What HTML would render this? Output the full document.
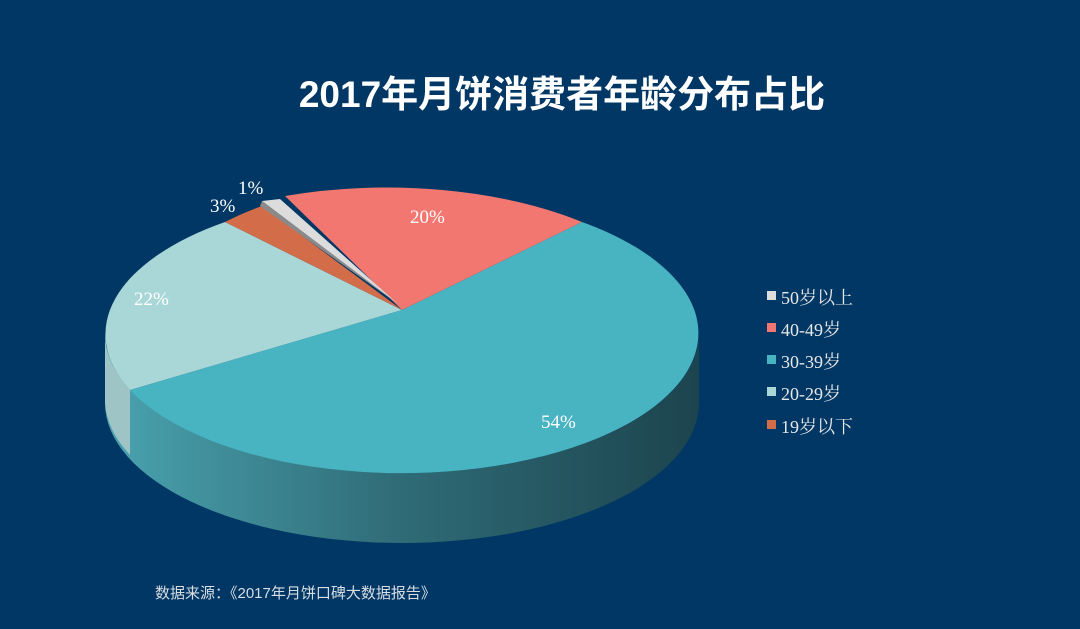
<!DOCTYPE html>
<html><head><meta charset="utf-8"><style>
body{margin:0;width:1080px;height:624px;background:#003764;overflow:hidden;font-family:"Liberation Sans","Noto Sans CJK SC",sans-serif}
</style></head><body>
<svg width="1080" height="624" viewBox="0 0 1080 624" xmlns="http://www.w3.org/2000/svg">
<defs>
<linearGradient id="g" x1="0" x2="1" y1="0" y2="0">
<stop offset="0" stop-color="#4aa3b0"/><stop offset="0.5" stop-color="#2f6b76"/><stop offset="1" stop-color="#1c444e"/>
</linearGradient>
</defs>
<rect width="1080" height="624" fill="#003764"/>
<text x="562" y="107" text-anchor="middle" fill="#fff" font-size="37" font-weight="bold" font-family="Liberation Sans,Noto Sans CJK SC,sans-serif">2017年月饼消费者年龄分布占比</text>
<path d="M105,333 A297,140 0 0 0 699,333 L699,403 A297,140 0 0 1 105,403 Z" fill="url(#g)"/>
<path d="M105,333 A297,140 0 0 0 130,390 L130,455 A297,140 0 0 1 105,403 Z" fill="#9fc4c6"/>
<path d="M402,310 L582,222 A297,140 0 1 1 130,390 Z" fill="#48b3c1"/>
<path d="M402,310 L130,390 A297,140 0 0 1 225,222 Z" fill="#a9d6d7"/>
<path d="M402,310 L225,222 A297,140 0 0 1 262,206 Z" fill="#d36d49"/>
<path d="M402,310 L285,196 A297,140 0 0 1 582,222 Z" fill="#f27770"/>
<path d="M398,304 L262,201 L280,199 Z" fill="#dcdcdc"/>
<path d="M398,304 L262,201 L260,206 Z" fill="#8a8a8a"/>
<g fill="#fff" font-family="Liberation Serif,Noto Serif CJK SC,serif" font-size="19">
<text x="410" y="223">20%</text>
<text x="134" y="305">22%</text>
<text x="210" y="212">3%</text>
<text x="238" y="194">1%</text>
<text x="541" y="428">54%</text>
</g>
<g font-family="Liberation Serif,Noto Serif CJK SC,serif" font-size="18" fill="#e8e8e8">
<rect x="767" y="291" width="9" height="9" fill="#dcdcdc"/><text x="781" y="304">50岁以上</text>
<rect x="767" y="323" width="9" height="9" fill="#f27770"/><text x="781" y="336">40-49岁</text>
<rect x="767" y="355" width="9" height="9" fill="#48b3c1"/><text x="781" y="368">30-39岁</text>
<rect x="767" y="387" width="9" height="9" fill="#a9d6d7"/><text x="781" y="400">20-29岁</text>
<rect x="767" y="420" width="9" height="9" fill="#d36d49"/><text x="781" y="433">19岁以下</text>
</g>
<text x="155" y="598" fill="#d8dde4" font-size="15">数据来源：《2017年月饼口碑大数据报告》</text>
</svg>
</body></html>
